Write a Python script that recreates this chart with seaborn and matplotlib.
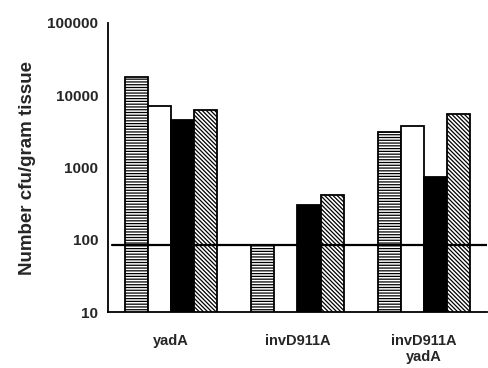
import numpy as np
import pandas as pd
import matplotlib
matplotlib.use("Agg")
import matplotlib.pyplot as plt
import seaborn as sns

# data
groups = ["yadA", "invD911A", "invD911A\nyadA"]
series = ["s1", "s2", "s3", "s4"]
s1 = [18000, 85, 3100]
s2 = [7000, np.nan, 3800]
s3 = [4600, 300, 740]
s4 = [6200, 420, 5500]
detection_limit = 85
yticks = [10, 100, 1000, 10000, 100000]

rows = []
for name, vals in zip(series, [s1, s2, s3, s4]):
    for g, v in zip(groups, vals):
        rows.append({"group": g, "series": name, "cfu": v})
df = pd.DataFrame(rows)

sns.set_style("white")
plt.rcParams["font.family"] = ["Liberation Sans", "DejaVu Sans"]
plt.rcParams["hatch.linewidth"] = 0.9

fig = plt.figure(figsize=(4.88, 3.68), dpi=100)
ax = fig.add_axes([0.221, 0.152, 0.777, 0.7855])

sns.barplot(data=df, x="group", y="cfu", hue="series", order=groups,
            hue_order=series, palette=["white", "white", "black", "white"],
            width=0.73, gap=0, edgecolor="black", linewidth=1.3,
            legend=False, ax=ax, log_scale=True)

hatches = ["------", None, None, "\\" * 8]
for cont, h in zip(ax.containers, hatches):
    for bar in cont:
        if h:
            bar.set_hatch(h)

ax.axhline(detection_limit, xmin=0.01, xmax=1, color="black", lw=1.6, zorder=5)

ax.set_yscale("log")
ax.set_ylim(10, 100000)
ax.set_xlim(-0.5, 2.5)
ax.set_yticks(yticks)
ax.set_yticklabels([str(t) for t in yticks], fontsize=11, fontweight="bold")
ax.yaxis.set_minor_locator(matplotlib.ticker.NullLocator())

# tick marks at group boundaries, labels at centres
ax.set_xticks([0.5, 1.5, 2.5])
ax.set_xticklabels([])
ax.set_xticks([0, 1, 2], minor=True)
ax.set_xticklabels(groups, minor=True, fontsize=10.5, fontweight="bold",
                   linespacing=1.2)
ax.tick_params(axis="x", which="minor", length=0, pad=16)
ax.tick_params(axis="x", which="major", length=5, width=1.3, direction="out")
ax.tick_params(axis="y", length=5, width=1.3, direction="out", pad=2)

ax.set_xlabel("")
ax.set_ylabel("Number cfu/gram tissue", fontsize=13.5, fontweight="bold",
              labelpad=8)

for side in ["top", "right"]:
    ax.spines[side].set_visible(False)
for side in ["left", "bottom"]:
    ax.spines[side].set_linewidth(1.3)
    ax.spines[side].set_color("black")

fig.savefig("out.png", dpi=100)
